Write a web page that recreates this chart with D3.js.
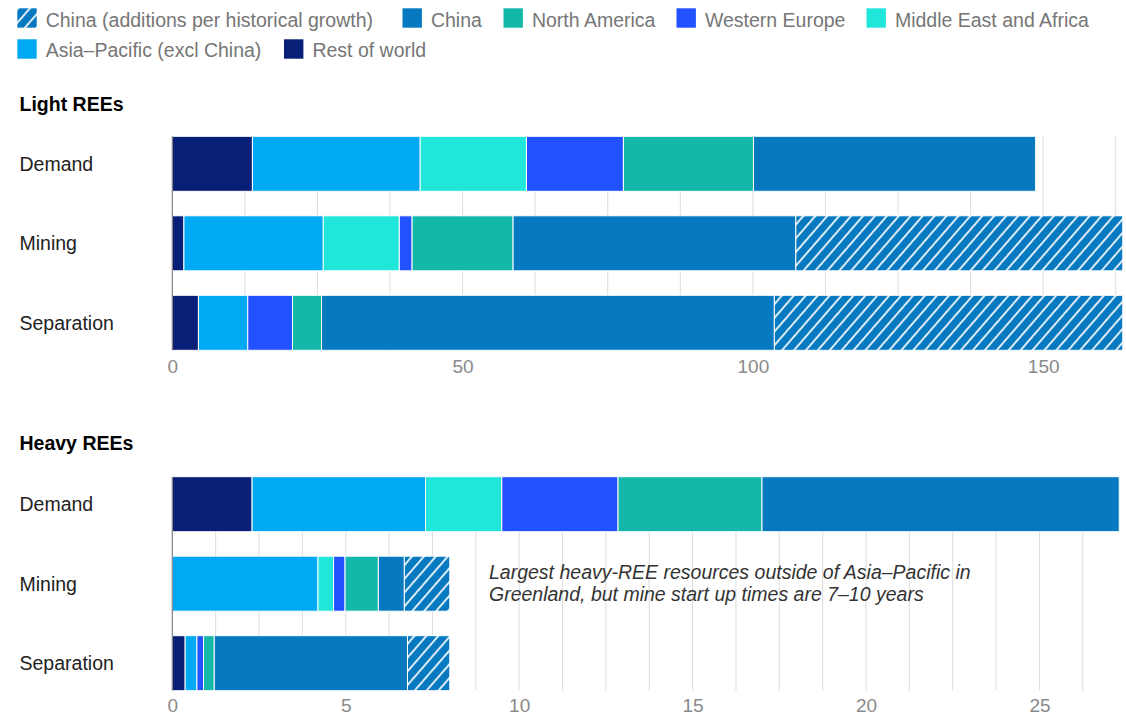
<!DOCTYPE html>
<html>
<head>
<meta charset="utf-8">
<script src="https://cdn.jsdelivr.net/npm/d3@7"></script>
<style>
  html, body { margin: 0; padding: 0; background: #fff; }
  svg { display: block; font-family: "Liberation Sans", Arial, sans-serif; }
</style>
</head>
<body>
<svg id="chart" width="1126" height="715"></svg>
<script>
// Stage of the supply chain (one bar each)
const stages = ["Demand", "Mining", "Separation"];

// Regions, in stacking order from left to right
const regions = [
  "Rest of world",
  "Asia–Pacific (excl China)",
  "Middle East and Africa",
  "Western Europe",
  "North America",
  "China",
  "China (additions per historical growth)"
];

// Legend order
const legendRow1 = ["China (additions per historical growth)", "China", "North America", "Western Europe", "Middle East and Africa"];
const legendRow2 = ["Asia–Pacific (excl China)", "Rest of world"];

const regionColors = ["#081f78", "#00a9f4", "#21e6da", "#2251ff", "#14b8a9", "#0679c1", "hatch"];

// Light REEs, thousand tonnes, values per region (same order as regions)
const lightDemand     = [13.8, 28.9, 18.3, 16.7, 22.4, 48.6, 0];
const lightMining     = [2.0, 24.0, 13.1, 2.2, 17.4, 48.7, 56.3];
const lightSeparation = [4.5, 8.5, 0, 7.7, 5.0, 78.0, 60.0];
const lightTicks = [0, 50, 100, 150];
const lightMax = 163.7;
const lightGridStep = 12.5;

// Heavy REEs, thousand tonnes
const heavyDemand     = [2.3, 5.0, 2.2, 3.35, 4.15, 10.3, 0];
const heavyMining     = [0, 4.2, 0.45, 0.33, 0.96, 0.75, 1.31];
const heavySeparation = [0.37, 0.34, 0, 0.19, 0.31, 5.57, 1.22];
const heavyTicks = [0, 5, 10, 15, 20, 25];
const heavyMax = 27.4;
const heavyGridStep = 1.25;

const noteLines = [
  "Largest heavy-REE resources outside of Asia–Pacific in",
  "Greenland, but mine start up times are 7–10 years"
];

const svg = d3.select("#chart");
const defs = svg.append("defs");

// diagonal hatch for projected Chinese additions
const HATCH = 9;
const pat = defs.append("pattern")
  .attr("id", "hatch")
  .attr("patternUnits", "userSpaceOnUse")
  .attr("width", HATCH).attr("height", HATCH)
  .attr("patternTransform", "rotate(41)");
pat.append("rect").attr("width", HATCH).attr("height", HATCH).attr("fill", "#0679c1");
pat.append("line").attr("x1", 1).attr("y1", 0).attr("x2", 1).attr("y2", HATCH)
  .attr("stroke", "#fff").attr("stroke-width", 1.7);

const fillOf = name => {
  const c = regionColors[regions.indexOf(name)];
  return c === "hatch" ? "url(#hatch)" : c;
};

const FONT = 19.5;
const plotLeft = 172.3, plotRight = 1122.7;

// ---- legend ----
const legendSlots1 = [17.3, 402.5, 503.5, 676.5, 866.5];
const legendSlots2 = [17.3, 284];
function legendRow(items, slots, swTop, baseline) {
  items.forEach((name, i) => {
    const x = slots[i];
    svg.append("rect").attr("x", x).attr("y", swTop).attr("width", 19.4).attr("height", 19.4)
      .attr("fill", fillOf(name));
    svg.append("text").attr("x", x + 28.4).attr("y", baseline)
      .attr("font-size", FONT).attr("fill", "#767676").text(name);
  });
}
legendRow(legendRow1, legendSlots1, 8.3, 26.8);
legendRow(legendRow2, legendSlots2, 39.3, 57.4);

// ---- panels ----
function panel(opts) {
  const { title, titleBaseline, top, values, max, ticks, gridStep, clipId, tickPad } = opts;
  const bottom = top + 214;

  const x = d3.scaleLinear().domain([0, max]).range([plotLeft, plotRight]);
  const y = d3.scaleBand().domain(stages).range([top, bottom]).paddingInner(0.308).paddingOuter(0);

  svg.append("text").attr("x", 19.5).attr("y", titleBaseline)
    .attr("font-size", FONT).attr("font-weight", "bold").attr("fill", "#000").text(title);

  const g = svg.append("g");

  // vertical gridlines
  g.append("g").selectAll("line")
    .data(d3.range(gridStep, max, gridStep))
    .join("line")
    .attr("x1", d => x(d)).attr("x2", d => x(d))
    .attr("y1", top).attr("y2", bottom)
    .attr("stroke", "#dcdcdc").attr("stroke-width", 1);

  // stage labels
  g.append("g").selectAll("text")
    .data(stages)
    .join("text")
    .attr("x", 19.5)
    .attr("y", d => y(d) + y.bandwidth() / 2 + 7)
    .attr("font-size", FONT).attr("fill", "#222")
    .text(d => d);

  // stacked bars
  const table = stages.map((s, i) => {
    const row = { stage: s };
    regions.forEach((r, j) => { row[r] = values[i][j]; });
    return row;
  });
  const stacked = d3.stack().keys(regions)(table);

  defs.append("clipPath").attr("id", clipId)
    .append("rect").attr("x", plotLeft).attr("y", top - 2)
    .attr("width", plotRight - plotLeft).attr("height", bottom - top + 4);

  const bars = g.append("g").attr("clip-path", `url(#${clipId})`);
  stacked.forEach(layer => {
    bars.append("g").selectAll("rect")
      .data(layer.filter(d => d[1] - d[0] > 0))
      .join("rect")
      .attr("x", d => x(d[0]))
      .attr("width", d => x(d[1]) - x(d[0]))
      .attr("y", d => y(d.data.stage))
      .attr("height", y.bandwidth())
      .attr("fill", fillOf(layer.key))
      .attr("stroke", "#fff").attr("stroke-width", 1);
  });

  // zero line
  g.append("line")
    .attr("x1", x(0)).attr("x2", x(0))
    .attr("y1", top).attr("y2", bottom)
    .attr("stroke", "#808080").attr("stroke-width", 1.2);

  // tick labels
  const axis = d3.axisBottom(x).tickValues(ticks).tickSize(0).tickPadding(tickPad);
  const ax = g.append("g").attr("transform", `translate(0,${bottom})`).call(axis);
  ax.select(".domain").remove();
  ax.selectAll("text")
    .attr("font-size", 19).attr("fill", "#8a8a8a")
    .attr("font-family", "'Liberation Sans', Arial, sans-serif");

  return { x, y };
}

panel({
  title: "Light REEs", titleBaseline: 111, top: 136.3,
  values: [lightDemand, lightMining, lightSeparation],
  max: lightMax, ticks: lightTicks, gridStep: lightGridStep, clipId: "clipLight", tickPad: 9
});

panel({
  title: "Heavy REEs", titleBaseline: 450, top: 476.7,
  values: [heavyDemand, heavyMining, heavySeparation],
  max: heavyMax, ticks: heavyTicks, gridStep: heavyGridStep, clipId: "clipHeavy", tickPad: 7.5
});

// annotation
svg.append("text")
  .attr("x", 489).attr("y", 579)
  .attr("font-size", FONT).attr("font-style", "italic").attr("fill", "#333")
  .selectAll("tspan")
  .data(noteLines)
  .join("tspan")
  .attr("x", 489)
  .attr("dy", (d, i) => i === 0 ? 0 : 21.5)
  .text(d => d);
</script>
</body>
</html>
